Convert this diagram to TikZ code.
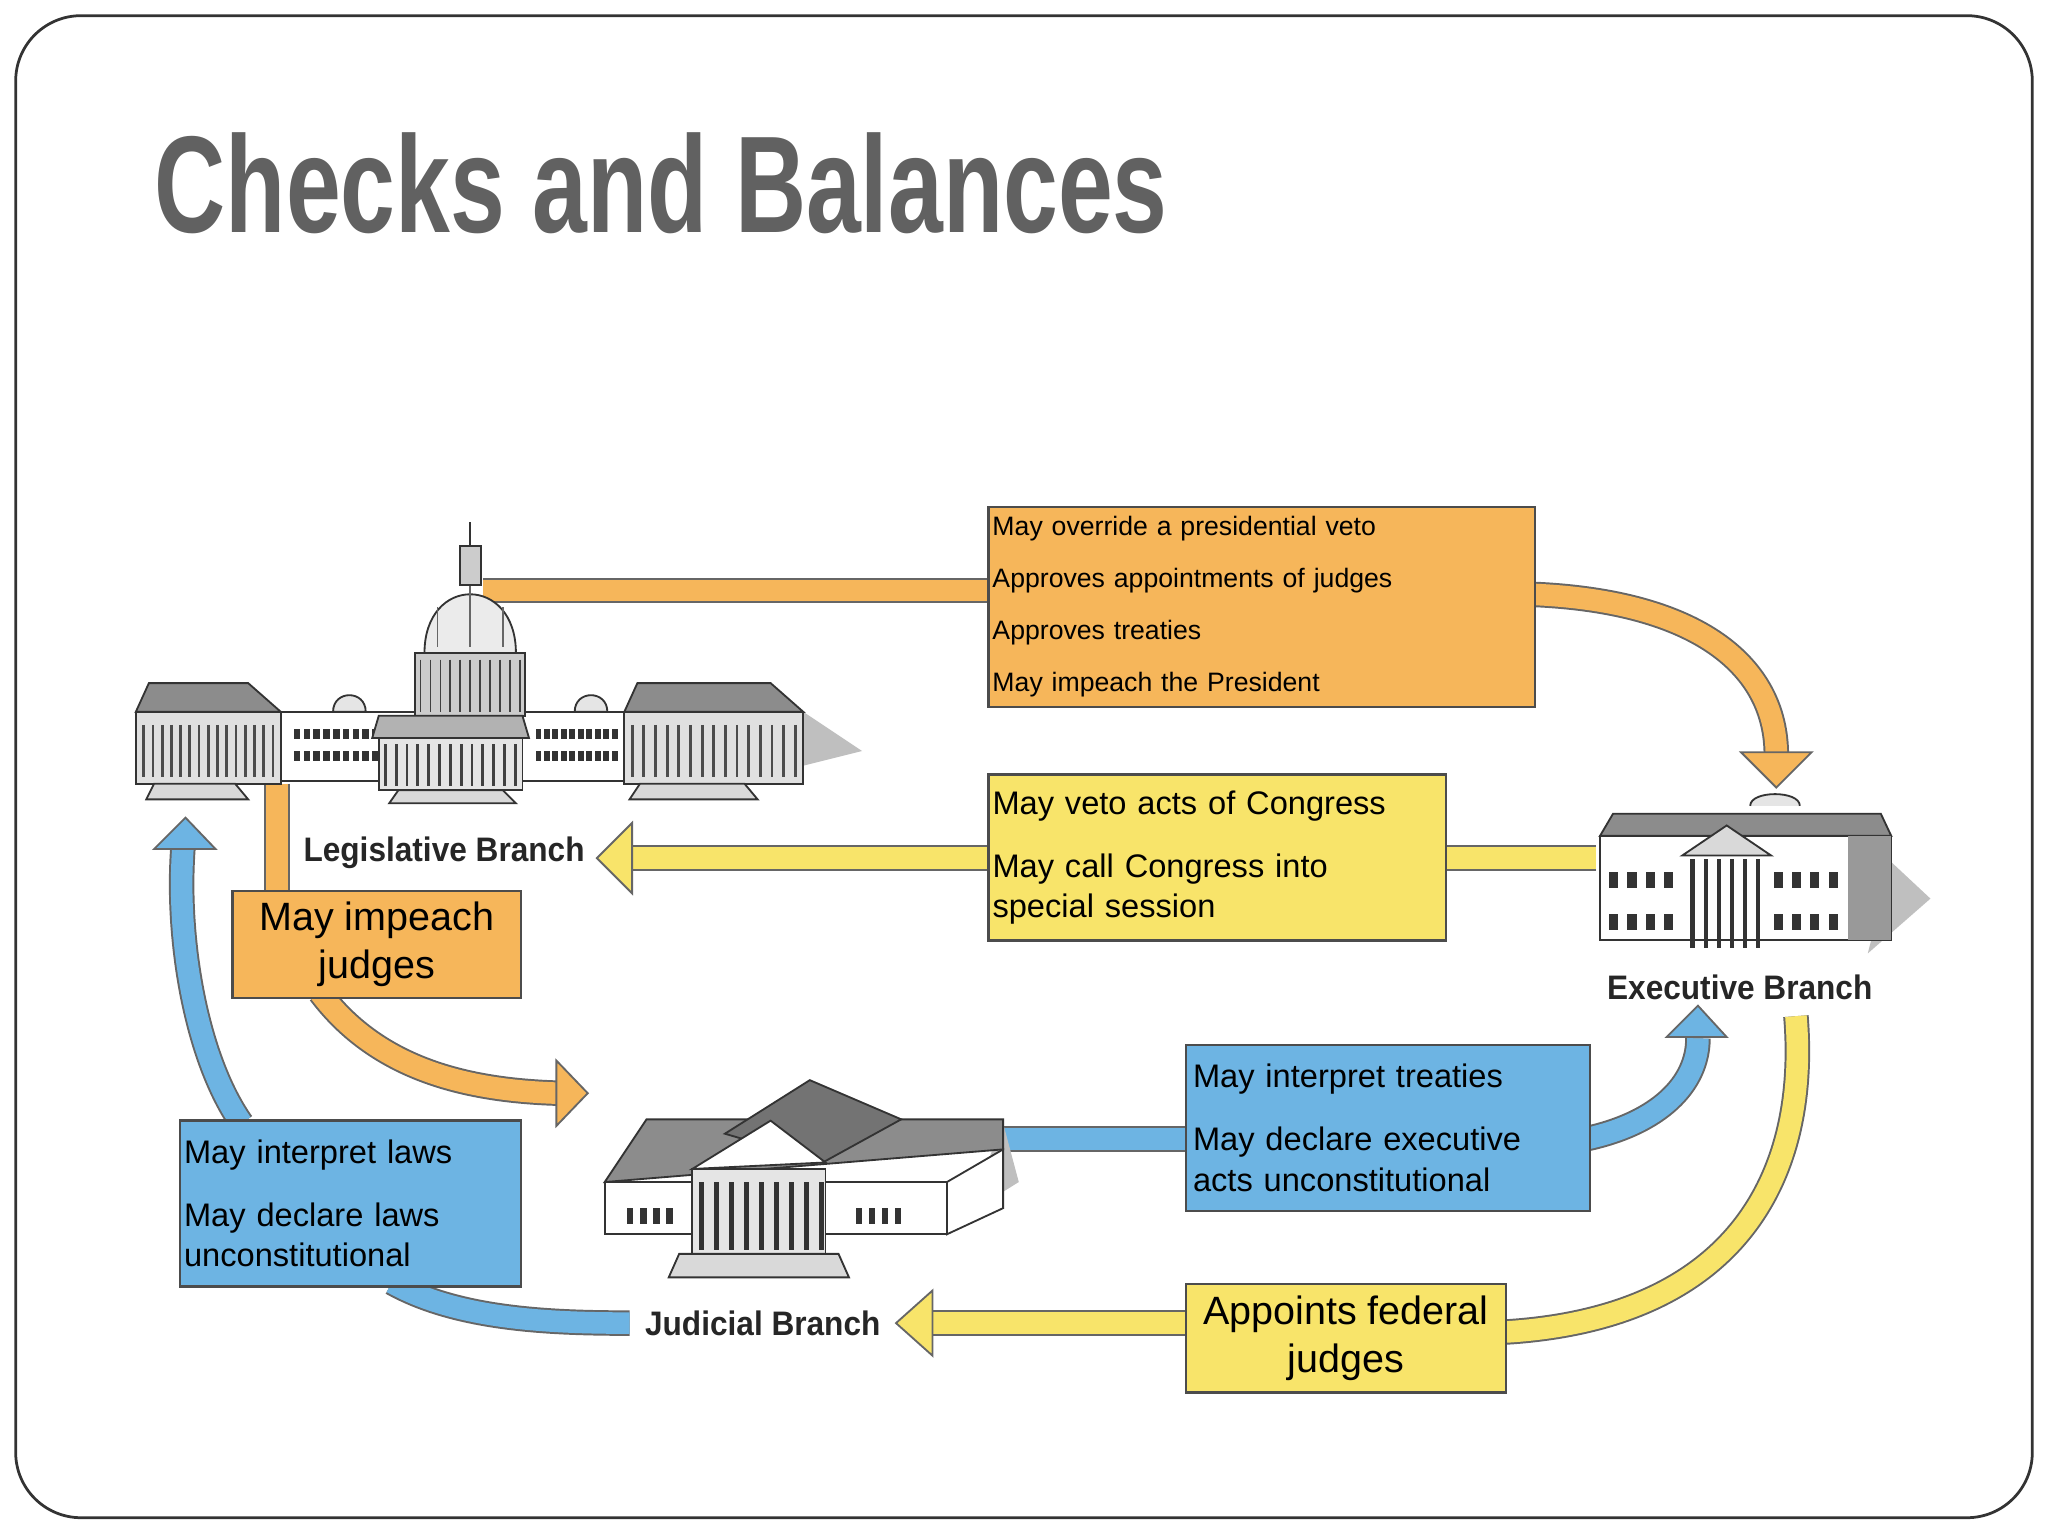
\documentclass[tikz,border=0pt]{standalone}
\usepackage{fontspec}
\setmainfont{Liberation Sans}
\begin{document}
\begin{tikzpicture}[x=0.01cm,y=-0.01cm,
  band/.style={preaction={draw=black!60,line width=0.195cm},line width=0.165cm},
  head/.style={draw=black!60,line width=0.4pt,line join=miter},
  box/.style={draw=black!70,line width=0.5pt,inner sep=0.01cm,align=left,anchor=center},
  lbl/.style={font=\fontsize{7.4}{8}\selectfont\bfseries,text=black!85,xscale=0.93},
  bldg/.style={draw=black!80,line width=0.4pt}]
\definecolor{org}{HTML}{F6B65A}
\definecolor{yel}{HTML}{F8E46A}
\definecolor{blu}{HTML}{6DB4E3}
\useasboundingbox (0,0) rectangle (1568,1176);
\draw[black!80,line width=0.6pt,rounded corners=0.5cm] (12,12) rectangle (1556,1162);
\node[anchor=base west,inner sep=0,text=black!62,font=\fontsize{30}{30}\selectfont\bfseries,xscale=0.715] (title) at (118,178) {Checks and Balances};

% coordinates at buildings
\coordinate (cap) at (370,452);
\coordinate (leg) at (212,600);
\coordinate (exe) at (1222,657);
\coordinate (exb) at (1375,778);
\coordinate (jud) at (768,872);
\coordinate (jlab) at (482,1013);
\coordinate (ob) at (966,464.5);

% arrows
\draw[band,org] (cap) -- (760,452);
\draw[band,org] (1172,455) .. controls (1300,460) and (1360,510) .. (1360,578);
\filldraw[head,fill=org] (1333,576) -- (1387,576) -- (1360,603) -- cycle;
\draw[band,yel] (exe) -- (1104,657);
\draw[band,yel] (760,657) -- (482,657);
\filldraw[head,fill=yel] (484,630) -- (484,684) -- (457,657) -- cycle;
\draw[band,org] (leg) -- (212,685);
\draw[band,org] (245,760) .. controls (290,820) and (360,835) .. (428,837);
\filldraw[head,fill=org] (426,812) -- (426,862) -- (450,837) -- cycle;
\draw[band,blu] (300,982) .. controls (350,1010) and (420,1013) .. (jlab);
\draw[band,blu] (185,860) .. controls (150,810) and (135,720) .. (140,650);
\filldraw[head,fill=blu] (118,650) -- (165,650) -- (142,626) -- cycle;
\draw[band,blu] (jud) -- (910,872);
\draw[band,blu] (1214,872) .. controls (1270,860) and (1300,830) .. (1300,795);
\filldraw[head,fill=blu] (1276,794) -- (1322,794) -- (1300,770) -- cycle;
\draw[band,yel] (exb) .. controls (1385,900) and (1330,1010) .. (1150,1020);
\draw[band,yel] (910,1013) -- (712,1013);
\filldraw[head,fill=yel] (714,988) -- (714,1038) -- (686,1013) -- cycle;

% boxes
\node[box,fill=org,minimum width=4.18cm,minimum height=1.53cm,text width=4.12cm,font=\fontsize{5.8}{11.3}\selectfont] (o1) at (ob)
 {May override a presidential veto\\Approves appointments of judges\\Approves treaties\\May impeach the President};
\node[box,fill=yel,minimum width=3.5cm,minimum height=1.27cm,text width=3.44cm,font=\fontsize{7.1}{8.8}\selectfont] (y1) at (932,656.5)
 {May veto acts of Congress\\[4.9pt]May call Congress into\\special session};
\node[box,fill=org,minimum width=2.21cm,minimum height=0.82cm,align=center,font=\fontsize{8.6}{10.5}\selectfont] (o2) at (288.5,723)
 {May impeach\\judges};
\node[box,fill=blu,minimum width=2.61cm,minimum height=1.27cm,text width=2.55cm,font=\fontsize{7.1}{8.8}\selectfont] (b1) at (268.5,921.5)
 {May interpret laws\\[4.9pt]May declare laws\\unconstitutional};
\node[box,fill=blu,minimum width=3.09cm,minimum height=1.27cm,text width=2.98cm,font=\fontsize{7.1}{8.8}\selectfont] (b2) at (1062.5,863.5)
 {May interpret treaties\\[4.9pt]May declare executive\\acts unconstitutional};
\node[box,fill=yel,minimum width=2.45cm,minimum height=0.83cm,align=center,font=\fontsize{8.6}{10.5}\selectfont] (y2) at (1030.5,1024.5)
 {Appoints federal\\judges};

% Capitol building
\fill[black!25] (560,600) -- (660,575) -- (615,545) -- cycle;
\foreach \a/\b in {104/215,478/615}{
  \filldraw[bldg,fill=black!45] (\a+10,523) -- (\b-25,523) -- (\b,545) -- (\a,545) -- cycle;
  \filldraw[bldg,fill=black!12] (\a,545) rectangle (\b,600);
  \foreach \i in {0,...,14} \draw[black!70,line width=0.6pt] (\a+6+\i*\b/14-\i*\a/14-\i*12/14,555) -- ++(0,40);
}
\filldraw[bldg,fill=white] (215,545) rectangle (478,598);
\foreach \i in {0,...,9}{\fill[black!80] (225+\i*7.5,558) rectangle ++(5,8); \fill[black!80] (225+\i*7.5,575) rectangle ++(5,8);}
\foreach \i in {0,...,9}{\fill[black!80] (410+\i*6.5,558) rectangle ++(4.5,8); \fill[black!80] (410+\i*6.5,575) rectangle ++(4.5,8);}
\filldraw[bldg,fill=black!20] (318,500) rectangle (402,548);
\foreach \i in {0,...,10} \draw[black!75] (322+\i*7.6,505) -- ++(0,40);
\filldraw[bldg,fill=black!8] (325,500) .. controls (325,440) and (395,440) .. (395,500) -- cycle;
\draw[black!60] (335,495) -- (335,465) (360,495) -- (360,448) (385,495) -- (385,465);
\filldraw[bldg,fill=black!20] (352,418) rectangle (368,448);
\draw[bldg] (360,418) -- (360,400);
\filldraw[bldg,fill=black!30] (290,548) -- (400,548) -- (405,565) -- (285,565) -- cycle;
\filldraw[bldg,fill=black!10] (290,565) rectangle (400,605);
\foreach \i in {0,...,12} \draw[black!75,line width=0.6pt] (295+\i*8.3,570) -- ++(0,32);
\filldraw[bldg,fill=black!10] (255,545) .. controls (255,528) and (280,528) .. (280,545) -- cycle;
\filldraw[bldg,fill=black!10] (440,545) .. controls (440,528) and (465,528) .. (465,545) -- cycle;
\filldraw[bldg,fill=black!15] (118,600) -- (180,600) -- (190,612) -- (112,612) -- cycle;
\filldraw[bldg,fill=black!15] (305,605) -- (385,605) -- (395,615) -- (298,615) -- cycle;
\filldraw[bldg,fill=black!15] (490,600) -- (570,600) -- (580,612) -- (482,612) -- cycle;
\node[lbl] (legl) at (340,653) {Legislative Branch};

% Executive building
\fill[black!25] (1430,730) -- (1478,688) -- (1448,660) -- cycle;
\filldraw[bldg,fill=black!45] (1235,623) -- (1440,623) -- (1448,640) -- (1225,640) -- cycle;
\filldraw[bldg,fill=white] (1225,640) rectangle (1448,720);
\fill[black!40] (1415,640) rectangle (1448,720);
\foreach \r in {668,700}{\foreach \i in {0,...,3}{\fill[black!80] (1232+\i*14,\r) rectangle ++(7,12);\fill[black!80] (1358+\i*14,\r) rectangle ++(7,12);}}
\filldraw[bldg,fill=black!15] (1288,655) -- (1322,632) -- (1356,655) -- cycle;
\foreach \i in {0,...,5} \draw[black!80,line width=1pt] (1296+\i*10,658) -- ++(0,68);
\filldraw[bldg,fill=black!10] (1340,617) .. controls (1340,605) and (1378,605) .. (1378,617);
\node[lbl] (exl) at (1332,756) {Executive Branch};

% Judicial building
\fill[black!25] (740,930) -- (780,905) -- (768,860) -- cycle;
\filldraw[bldg,fill=black!45] (495,857) -- (768,857) -- (768,880) -- (463,905) -- cycle;
\filldraw[bldg,fill=white] (463,905) rectangle (725,945);
\filldraw[bldg,fill=white] (725,905) -- (768,880) -- (768,925) -- (725,945) -- cycle;
\foreach \i in {0,...,3}{\fill[black!80] (480+\i*10,925) rectangle ++(5,12);\fill[black!80] (655+\i*10,925) rectangle ++(5,12);}
\filldraw[bldg,fill=black!55] (555,868) -- (620,827) -- (690,857) -- (630,890) -- cycle;
\filldraw[bldg,fill=white] (530,895) -- (590,858) -- (632,890) -- cycle;
\filldraw[bldg,fill=black!10] (530,895) rectangle (632,960);
\foreach \i in {0,...,8} \draw[black!80,line width=1pt] (537+\i*11.5,905) -- ++(0,52);
\filldraw[bldg,fill=black!15] (520,960) -- (642,960) -- (650,978) -- (512,978) -- cycle;
\node[lbl] (jl) at (584,1013) {Judicial Branch};
\end{tikzpicture}
\end{document}
